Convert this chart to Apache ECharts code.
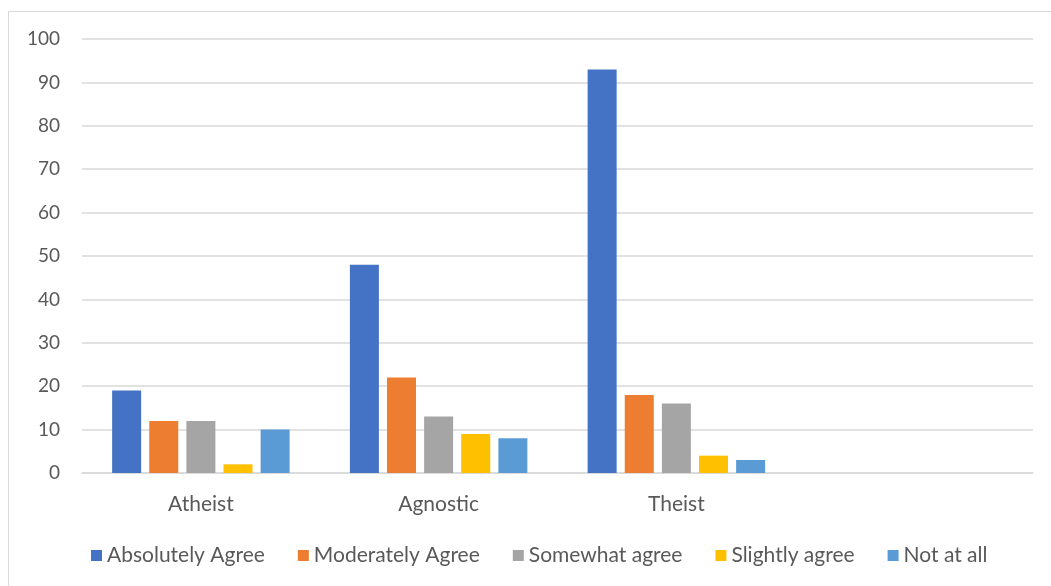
<!DOCTYPE html>
<html>
<head>
<meta charset="utf-8">
<script src="https://cdn.jsdelivr.net/npm/echarts@6/dist/echarts.min.js"></script>
<style>
  html, body { margin: 0; padding: 0; background: #fff; }
  #chart { width: 1051px; height: 586px; }
</style>
</head>
<body>
<div id="chart"></div>
<script>
// Belief groups (the fourth slot is left empty, as in the original workbook range)
const categories = ['Atheist', 'Agnostic', 'Theist', ''];

const absolutelyAgree = [19, 48, 93, null];
const moderatelyAgree = [12, 22, 18, null];
const somewhatAgree   = [12, 13, 16, null];
const slightlyAgree   = [2, 9, 4, null];
const notAtAll        = [10, 8, 3, null];

const seriesNames = ['Absolutely Agree', 'Moderately Agree', 'Somewhat agree', 'Slightly agree', 'Not at all'];
const seriesColors = ['#4472C4', '#ED7D31', '#A5A5A5', '#FFC000', '#5B9BD5'];
const seriesValues = [absolutelyAgree, moderatelyAgree, somewhatAgree, slightlyAgree, notAtAll];

const yTicks = { min: 0, max: 100, interval: 10 };

const FONT = 'Lato, "Open Sans", sans-serif';
const TEXT = '#595959';

const chart = echarts.init(document.getElementById('chart'), null, { renderer: 'canvas' });

chart.setOption({
  animation: false,
  backgroundColor: '#ffffff',
  textStyle: { fontFamily: FONT },
  graphic: [{
    type: 'rect',
    shape: { x: 8.5, y: 11.5, width: 1060, height: 600 },
    style: { fill: 'none', stroke: '#D9D9D9', lineWidth: 1 },
    silent: true,
    z: -1
  }],
  grid: { left: 82, right: 18, top: 39, bottom: 113, containLabel: false },
  legend: {
    bottom: 15,
    left: 86,
    itemWidth: 11,
    itemHeight: 11,
    itemGap: 33,
    icon: 'rect',
    textStyle: { color: TEXT, fontSize: 21, fontFamily: FONT },
    data: seriesNames
  },
  xAxis: {
    type: 'category',
    data: categories,
    axisLine: { lineStyle: { color: '#D9D9D9', width: 1.5 } },
    axisTick: { show: false },
    axisLabel: { color: TEXT, fontSize: 21, fontFamily: FONT, margin: 21 }
  },
  yAxis: {
    type: 'value',
    min: yTicks.min,
    max: yTicks.max,
    interval: yTicks.interval,
    axisLine: { show: false },
    axisTick: { show: false },
    axisLabel: { color: TEXT, fontSize: 19, fontFamily: FONT, margin: 22 },
    splitLine: { lineStyle: { color: '#D9D9D9', width: 1.5 } }
  },
  series: seriesNames.map((name, i) => ({
    name,
    type: 'bar',
    data: seriesValues[i],
    barWidth: 29,
    barGap: '28%',
    itemStyle: { color: seriesColors[i] }
  }))
});
</script>
</body>
</html>
